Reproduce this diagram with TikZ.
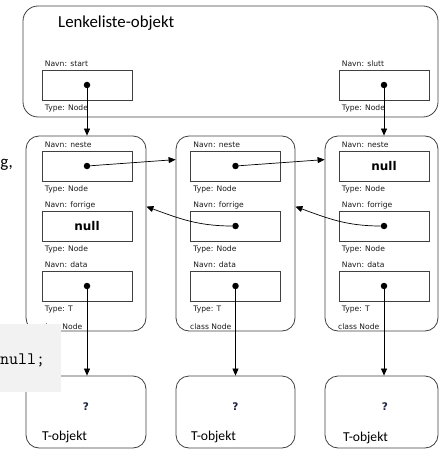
\documentclass[tikz,border=0pt]{standalone}
\usepackage{fontspec}
\setmainfont{Carlito}
\newfontfamily\dejavu{DejaVu Sans}
\usetikzlibrary{arrows.meta}
\definecolor{kodegraa}{HTML}{F2F2F2}
\definecolor{spm}{HTML}{1C2541}

\tikzset{
  obj/.style = {draw=black!75, line width=0.8pt, rounded corners=13pt, inner sep=0pt},
  felt/.style = {draw=black!75, line width=0.6pt, minimum width=90pt, minimum height=30pt, inner sep=0pt,
                 font=\dejavu\bfseries\fontsize{12}{14}\selectfont},
  lbl/.style = {font=\dejavu\fontsize{7.6}{9}\selectfont, inner sep=0pt, text=black!90},
  navn/.style = {label={[lbl, anchor=base west, xshift=3pt, yshift=3pt]north west:{#1}}},
  typ/.style = {label={[lbl, anchor=base west, xshift=3pt, yshift=-10.5pt]south west:{#1}}},
  prikk/.style = {circle, fill=black, inner sep=0pt, minimum size=6.5pt},
  peker/.style = {-{Triangle[length=7pt, width=6pt]}, line width=0.7pt},
  spmtegn/.style = {font=\dejavu\bfseries\fontsize{10.5}{12}\selectfont, text=spm, inner sep=0pt},
  objtekst/.style = {font=\fontsize{13.6}{16}\selectfont, inner sep=0pt, anchor=west},
}

\begin{document}
\begin{tikzpicture}[x=1pt, y=-1pt]
\useasboundingbox (0,0) rectangle (439,449);

% listeobjektet
\node[obj, rounded corners=15pt, minimum width=415pt, minimum height=111pt] (liste) at (230.5,61.5) {};
\node[font=\fontsize{16.8}{20}\selectfont, inner sep=0pt, anchor=west] (tittel) at (58,23) {Lenkeliste-objekt};
\node[felt, navn=Navn: start, typ=Type: Node] (start) at (87,85) {};
\node[felt, navn=Navn: slutt, typ=Type: Node] (slutt) at (384,85) {};

% nodene
\node[obj, minimum width=120pt, minimum height=195pt] (n1) at (86,233.5) {};
\node[obj, minimum width=119pt, minimum height=195pt] (n2) at (235.5,233.5) {};
\node[obj, minimum width=113pt, minimum height=195pt] (n3) at (381.5,233.5) {};

\node[felt, navn=Navn: neste, typ=Type: Node] (n1neste) at (87,166) {};
\node[felt, navn=Navn: forrige, typ=Type: Node] (n1forrige) at (87,226) {null};
\node[felt, navn=Navn: data, typ=Type: T] (n1data) at (87,286) {};
\node[lbl, anchor=base west] (n1klasse) at (41,329) {class Node};

\node[felt, navn=Navn: neste, typ=Type: Node] (n2neste) at (235.5,166) {};
\node[felt, navn=Navn: forrige, typ=Type: Node] (n2forrige) at (235.5,226) {};
\node[felt, navn=Navn: data, typ=Type: T] (n2data) at (235.5,286) {};
\node[lbl, anchor=base west] (n2klasse) at (190,329) {class Node};

\node[felt, navn=Navn: neste, typ=Type: Node] (n3neste) at (384,166) {null};
\node[felt, navn=Navn: forrige, typ=Type: Node] (n3forrige) at (384,226) {};
\node[felt, navn=Navn: data, typ=Type: T] (n3data) at (384,286) {};
\node[lbl, anchor=base west] (n3klasse) at (338,329) {class Node};

% T-objektene
\node[obj, minimum width=120pt, minimum height=72pt] (t1) at (86,412) {};
\node[obj, minimum width=119pt, minimum height=72pt] (t2) at (235.5,412) {};
\node[obj, minimum width=113pt, minimum height=72pt] (t3) at (381.5,412) {};
\node[spmtegn] (t1spm) at (86,407) {?};
\node[spmtegn] (t2spm) at (235.5,407) {?};
\node[spmtegn] (t3spm) at (385,407) {?};
\node[objtekst] (t1navn) at (42,437) {T-objekt};
\node[objtekst] (t2navn) at (191,437) {T-objekt};
\node[objtekst] (t3navn) at (343,438) {T-objekt};

% pekere
\node[prikk] (startp) at (start) {};
\node[prikk] (sluttp) at (slutt) {};
\node[prikk] (n1nestep) at (n1neste) {};
\node[prikk] (n1datap) at (n1data) {};
\node[prikk] (n2nestep) at (n2neste) {};
\node[prikk] (n2forrigep) at (n2forrige) {};
\node[prikk] (n2datap) at (n2data) {};
\node[prikk] (n3forrigep) at (n3forrige) {};
\node[prikk] (n3datap) at (n3data) {};

\draw[peker] (startp) -- (startp |- n1.north);
\draw[peker] (sluttp) -- (sluttp |- n3.north);
\draw[peker] (n1nestep) -- ([yshift=-24pt]n2.north west);
\draw[peker] (n2nestep) -- ([yshift=-24pt]n3.north west);
\draw[peker] (n2forrigep) to[out=180, in=-20] ([yshift=-71pt]n1.north east);
\draw[peker] (n3forrigep) to[out=180, in=-20] ([yshift=-71pt]n2.north east);
\draw[peker] (n1datap) -- (n1datap |- t1.north);
\draw[peker] (n2datap) -- (n2datap |- t2.north);
\draw[peker] (n3datap) -- (n3datap |- t3.north);

% avkuttet tekst i kanten
\node[font=\fontsize{17}{20}\selectfont, inner sep=0pt, anchor=east] (kant) at (13,165) {g,};
\fill[kodegraa] (0,324) rectangle (61,392);
\node[font=\ttfamily\fontsize{17.5}{20}\selectfont, inner sep=0pt, anchor=west] (kode) at (0,360) {null;};
\end{tikzpicture}
\end{document}
